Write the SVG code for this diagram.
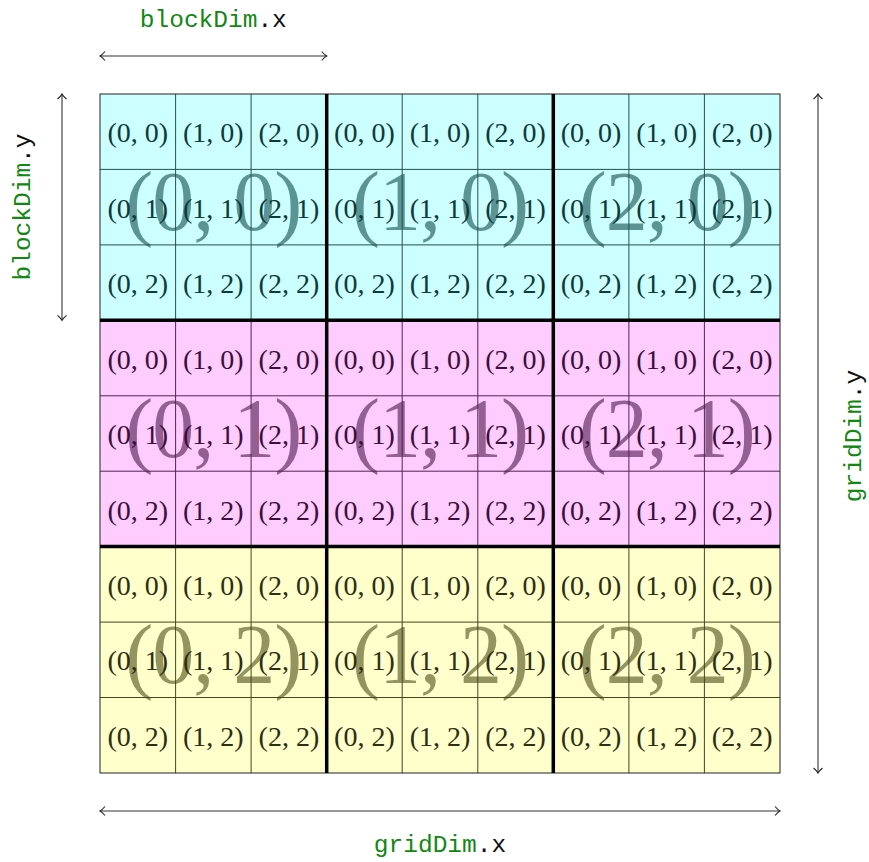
<svg xmlns="http://www.w3.org/2000/svg" width="869" height="862" viewBox="0 0 869 862">
<style>
.s{font-family:"Liberation Serif","DejaVu Serif",serif;font-size:28px;text-anchor:middle}
.b{font-family:"Liberation Serif","DejaVu Serif",serif;font-size:84px;text-anchor:middle;letter-spacing:-1px}
.m{font-family:"Liberation Mono","DejaVu Sans Mono",monospace;font-size:24.5px}
.g{fill:#118811}
.k{fill:#111}
.c .s{fill:#0f3a3a}.c .b{fill:#5c9494}
.p .s{fill:#3a0f3a}.p .b{fill:#946094}
.y .s{fill:#2e2e10}.y .b{fill:#949460}
.arr{stroke:#333;stroke-width:1.1;fill:none}
</style>
<defs>
<marker id="ah" viewBox="-6 -6 8 12" markerWidth="8" markerHeight="12" refX="0" refY="0" orient="auto-start-reverse" markerUnits="userSpaceOnUse">
<path d="M-5,-4.5 Q-2,-1 0,0 Q-2,1 -5,4.5" fill="none" stroke="#222" stroke-width="1.1"/>
</marker>
</defs>
<g id="fills">
<rect x="100" y="94" width="680" height="226.3" fill="#ccffff"/>
<rect x="100" y="320.3" width="680" height="226.3" fill="#ffccff"/>
<rect x="100" y="546.6" width="680" height="226.4" fill="#ffffcc"/>
</g>
<g id="row0" class="c">
<text class="b" x="213.3" y="230">(0, 0)</text>
<text class="b" x="440" y="230">(1, 0)</text>
<text class="b" x="666.7" y="230">(2, 0)</text>
<text class="s" x="137.8" y="142.2">(0, 0)</text><text class="s" x="213.3" y="142.2">(1, 0)</text><text class="s" x="288.9" y="142.2">(2, 0)</text>
<text class="s" x="364.4" y="142.2">(0, 0)</text><text class="s" x="440" y="142.2">(1, 0)</text><text class="s" x="515.6" y="142.2">(2, 0)</text>
<text class="s" x="591.1" y="142.2">(0, 0)</text><text class="s" x="666.7" y="142.2">(1, 0)</text><text class="s" x="742.2" y="142.2">(2, 0)</text>
<text class="s" x="137.8" y="217.7">(0, 1)</text><text class="s" x="213.3" y="217.7">(1, 1)</text><text class="s" x="288.9" y="217.7">(2, 1)</text>
<text class="s" x="364.4" y="217.7">(0, 1)</text><text class="s" x="440" y="217.7">(1, 1)</text><text class="s" x="515.6" y="217.7">(2, 1)</text>
<text class="s" x="591.1" y="217.7">(0, 1)</text><text class="s" x="666.7" y="217.7">(1, 1)</text><text class="s" x="742.2" y="217.7">(2, 1)</text>
<text class="s" x="137.8" y="293.2">(0, 2)</text><text class="s" x="213.3" y="293.2">(1, 2)</text><text class="s" x="288.9" y="293.2">(2, 2)</text>
<text class="s" x="364.4" y="293.2">(0, 2)</text><text class="s" x="440" y="293.2">(1, 2)</text><text class="s" x="515.6" y="293.2">(2, 2)</text>
<text class="s" x="591.1" y="293.2">(0, 2)</text><text class="s" x="666.7" y="293.2">(1, 2)</text><text class="s" x="742.2" y="293.2">(2, 2)</text>
</g>
<g id="row1" class="p">
<text class="b" x="213.3" y="456.5">(0, 1)</text>
<text class="b" x="440" y="456.5">(1, 1)</text>
<text class="b" x="666.7" y="456.5">(2, 1)</text>
<text class="s" x="137.8" y="368.6">(0, 0)</text><text class="s" x="213.3" y="368.6">(1, 0)</text><text class="s" x="288.9" y="368.6">(2, 0)</text>
<text class="s" x="364.4" y="368.6">(0, 0)</text><text class="s" x="440" y="368.6">(1, 0)</text><text class="s" x="515.6" y="368.6">(2, 0)</text>
<text class="s" x="591.1" y="368.6">(0, 0)</text><text class="s" x="666.7" y="368.6">(1, 0)</text><text class="s" x="742.2" y="368.6">(2, 0)</text>
<text class="s" x="137.8" y="444.1">(0, 1)</text><text class="s" x="213.3" y="444.1">(1, 1)</text><text class="s" x="288.9" y="444.1">(2, 1)</text>
<text class="s" x="364.4" y="444.1">(0, 1)</text><text class="s" x="440" y="444.1">(1, 1)</text><text class="s" x="515.6" y="444.1">(2, 1)</text>
<text class="s" x="591.1" y="444.1">(0, 1)</text><text class="s" x="666.7" y="444.1">(1, 1)</text><text class="s" x="742.2" y="444.1">(2, 1)</text>
<text class="s" x="137.8" y="519.5">(0, 2)</text><text class="s" x="213.3" y="519.5">(1, 2)</text><text class="s" x="288.9" y="519.5">(2, 2)</text>
<text class="s" x="364.4" y="519.5">(0, 2)</text><text class="s" x="440" y="519.5">(1, 2)</text><text class="s" x="515.6" y="519.5">(2, 2)</text>
<text class="s" x="591.1" y="519.5">(0, 2)</text><text class="s" x="666.7" y="519.5">(1, 2)</text><text class="s" x="742.2" y="519.5">(2, 2)</text>
</g>
<g id="row2" class="y">
<text class="b" x="213.3" y="683">(0, 2)</text>
<text class="b" x="440" y="683">(1, 2)</text>
<text class="b" x="666.7" y="683">(2, 2)</text>
<text class="s" x="137.8" y="594.9">(0, 0)</text><text class="s" x="213.3" y="594.9">(1, 0)</text><text class="s" x="288.9" y="594.9">(2, 0)</text>
<text class="s" x="364.4" y="594.9">(0, 0)</text><text class="s" x="440" y="594.9">(1, 0)</text><text class="s" x="515.6" y="594.9">(2, 0)</text>
<text class="s" x="591.1" y="594.9">(0, 0)</text><text class="s" x="666.7" y="594.9">(1, 0)</text><text class="s" x="742.2" y="594.9">(2, 0)</text>
<text class="s" x="137.8" y="670.4">(0, 1)</text><text class="s" x="213.3" y="670.4">(1, 1)</text><text class="s" x="288.9" y="670.4">(2, 1)</text>
<text class="s" x="364.4" y="670.4">(0, 1)</text><text class="s" x="440" y="670.4">(1, 1)</text><text class="s" x="515.6" y="670.4">(2, 1)</text>
<text class="s" x="591.1" y="670.4">(0, 1)</text><text class="s" x="666.7" y="670.4">(1, 1)</text><text class="s" x="742.2" y="670.4">(2, 1)</text>
<text class="s" x="137.8" y="745.8">(0, 2)</text><text class="s" x="213.3" y="745.8">(1, 2)</text><text class="s" x="288.9" y="745.8">(2, 2)</text>
<text class="s" x="364.4" y="745.8">(0, 2)</text><text class="s" x="440" y="745.8">(1, 2)</text><text class="s" x="515.6" y="745.8">(2, 2)</text>
<text class="s" x="591.1" y="745.8">(0, 2)</text><text class="s" x="666.7" y="745.8">(1, 2)</text><text class="s" x="742.2" y="745.8">(2, 2)</text>
</g>
<g id="gridlines" fill="none">
<g stroke="#255050" stroke-width="1">
<path d="M175.6,94V320.3M251.1,94V320.3M402.2,94V320.3M477.8,94V320.3M628.9,94V320.3M704.4,94V320.3M100,169.4H780M100,244.9H780"/>
</g>
<g stroke="#502550" stroke-width="1">
<path d="M175.6,320.3V546.6M251.1,320.3V546.6M402.2,320.3V546.6M477.8,320.3V546.6M628.9,320.3V546.6M704.4,320.3V546.6M100,395.8H780M100,471.2H780"/>
</g>
<g stroke="#45451f" stroke-width="1">
<path d="M175.6,546.6V773M251.1,546.6V773M402.2,546.6V773M477.8,546.6V773M628.9,546.6V773M704.4,546.6V773M100,622.1H780M100,697.5H780"/>
</g>
<rect x="100" y="94" width="680" height="679" stroke="#222" stroke-width="1"/>
<path d="M326.7,94V773M553.3,94V773M100,320.3H780M100,546.6H780" stroke="#000" stroke-width="3.5"/>
</g>
<g id="connectors">
<line class="arr" x1="100" y1="56" x2="326.7" y2="56" marker-start="url(#ah)" marker-end="url(#ah)"/>
<line class="arr" x1="62" y1="94" x2="62" y2="320.3" marker-start="url(#ah)" marker-end="url(#ah)"/>
<line class="arr" x1="818" y1="94" x2="818" y2="773" marker-start="url(#ah)" marker-end="url(#ah)"/>
<line class="arr" x1="100" y1="811" x2="780" y2="811" marker-start="url(#ah)" marker-end="url(#ah)"/>
</g>
<g id="labels">
<text class="m" x="213.3" y="27" text-anchor="middle"><tspan class="g">blockDim</tspan><tspan class="k">.x</tspan></text>
<text class="m" x="440" y="852" text-anchor="middle"><tspan class="g">gridDim</tspan><tspan class="k">.x</tspan></text>
<text class="m" transform="translate(30,207) rotate(-90)" text-anchor="middle"><tspan class="g">blockDim</tspan><tspan class="k">.y</tspan></text>
<text class="m" transform="translate(861,436) rotate(-90)" text-anchor="middle"><tspan class="g">gridDim</tspan><tspan class="k">.y</tspan></text>
</g>
</svg>
